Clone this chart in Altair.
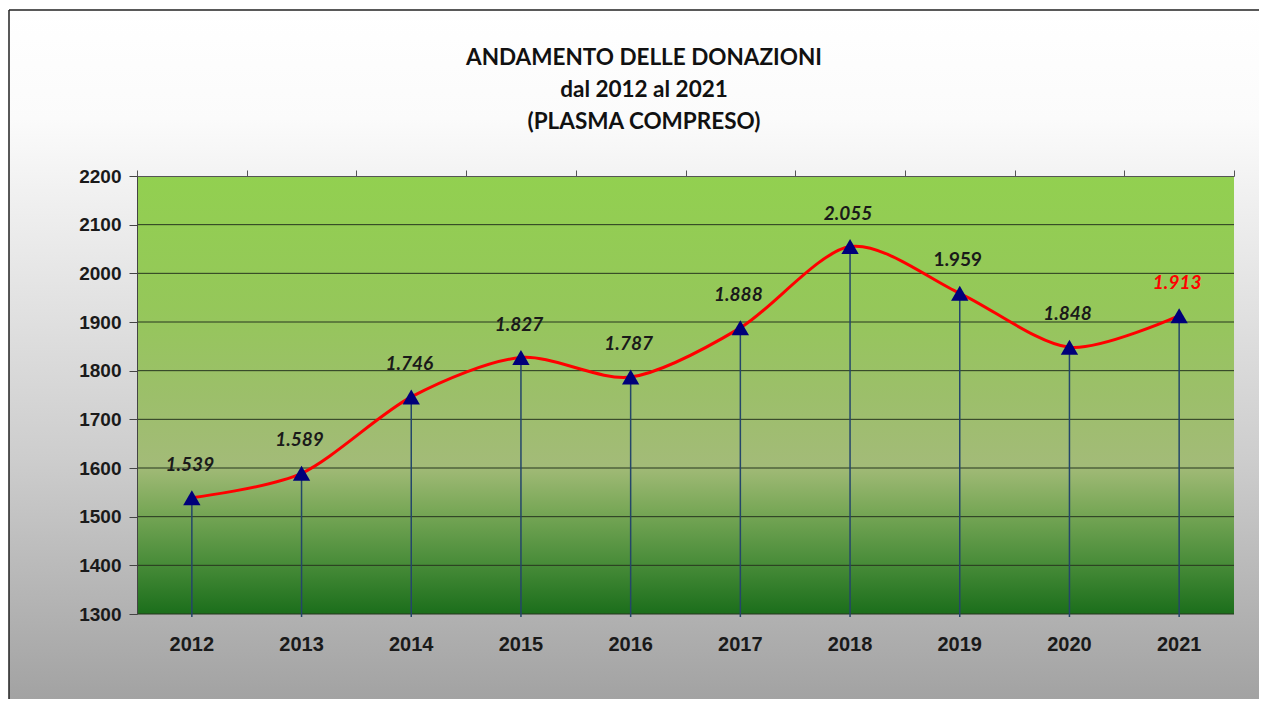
import altair as alt
import pandas as pd

years = ["2012", "2013", "2014", "2015", "2016", "2017", "2018", "2019", "2020", "2021"]
donations = [1539, 1589, 1746, 1827, 1787, 1888, 2055, 1959, 1848, 1913]
grid_values = [1300, 1400, 1500, 1600, 1700, 1800, 1900, 2000, 2100]
y_ticks = [1300, 1400, 1500, 1600, 1700, 1800, 1900, 2000, 2100, 2200]
title_lines = ["ANDAMENTO DELLE DONAZIONI", "dal 2012 al 2021", "(PLASMA COMPRESO)"]

W, H = 1097, 438

df = pd.DataFrame({
    "year": years,
    "value": donations,
    "label": [f"{v:,}".replace(",", ".") for v in donations],
})
grid_df = pd.DataFrame({"value": grid_values})
one = pd.DataFrame({"a": [1]})

yscale = alt.Scale(domain=[1300, 2200], nice=False, zero=False)
xscale = alt.Scale(type="band", paddingInner=0, paddingOuter=0)

yaxis = alt.Axis(values=y_ticks, format="d", tickSize=8, tickColor="#444444", domainColor="#444444",
                 labelFont="Liberation Sans", labelFontSize=19, labelFontWeight="bold",
                 labelColor="#1a1a1a", labelPadding=8, grid=False, zindex=1)
yenc = alt.Y("value:Q", scale=yscale, title=None, axis=yaxis)

outer_grad = alt.Gradient(
    gradient="linear", x1=0, y1=0, x2=0, y2=1,
    stops=[
        alt.GradientStop(color="#ffffff", offset=0),
        alt.GradientStop(color="#fbfbfb", offset=0.15),
        alt.GradientStop(color="#efefef", offset=0.27),
        alt.GradientStop(color="#cdcdcd", offset=0.62),
        alt.GradientStop(color="#9c9c9c", offset=1),
    ],
)
green_grad = alt.Gradient(
    gradient="linear", x1=0, y1=0, x2=0, y2=1,
    stops=[
        alt.GradientStop(color="#92d050", offset=0),
        alt.GradientStop(color="#95c75a", offset=0.3),
        alt.GradientStop(color="#9cbf6a", offset=0.5),
        alt.GradientStop(color="#a3bb78", offset=0.66),
        alt.GradientStop(color="#7aa858", offset=0.76),
        alt.GradientStop(color="#4a8d3a", offset=0.88),
        alt.GradientStop(color="#1b6e1b", offset=1),
    ],
)

outer_bg = alt.Chart(one).mark_rect(fill=outer_grad).encode(
    x=alt.value(-128), x2=alt.value(W + 60), y=alt.value(-166), y2=alt.value(H + 120)
)
border_top = alt.Chart(one).mark_rule(color="#222222", strokeWidth=1.5).encode(
    x=alt.value(-128), x2=alt.value(W + 60), y=alt.value(-166)
)
border_left = alt.Chart(one).mark_rule(color="#222222", strokeWidth=1.5).encode(
    x=alt.value(-128), y=alt.value(-166), y2=alt.value(H + 120)
)
plot_bg = alt.Chart(one).mark_rect(fill=green_grad).encode(
    x=alt.value(0), x2=alt.value(W), y=alt.value(0), y2=alt.value(H)
)

title_layers = [
    alt.Chart(one).mark_text(
        font="Lato", fontSize=22.5, fontWeight="bold", color="#111111",
        align="center", baseline="middle",
    ).encode(x=alt.value(507), y=alt.value(-118 + 32 * i), text=alt.value(t))
    for i, t in enumerate(title_lines)
]

grid = alt.Chart(grid_df).mark_rule(color="#27361f", strokeWidth=1).encode(
    y=yenc, x=alt.value(0), x2=alt.value(W),
)

xenc_top = alt.X(
    "year:N", scale=xscale, bandPosition=0.5, sort=years, title=None,
    axis=alt.Axis(orient="top", labels=False, tickBand="extent", tickSize=6,
                  tickColor="#555555", domainColor="#555555", domainWidth=1,
                  grid=False, zindex=1),
)
xenc_bottom = alt.X(
    "year:N", scale=xscale, bandPosition=0.5, sort=years, title=None,
    axis=alt.Axis(orient="bottom", ticks=False, domain=False, labelAngle=0,
                  labelFont="Liberation Sans", labelFontSize=20, labelFontWeight="bold",
                  labelColor="#1a1a1a", labelPadding=20, grid=False, zindex=1),
)
xenc_none = alt.X("year:N", scale=xscale, bandPosition=0.5, sort=years, axis=None)

drops = alt.Chart(df).mark_rule(color="#24466a", strokeWidth=1.5).encode(
    x=xenc_top, y=yenc, y2=alt.value(H + 3),
)
line = alt.Chart(df).mark_line(color="#ff0000", strokeWidth=3, interpolate="cardinal", tension=0.15).encode(
    x=xenc_bottom, y=yenc,
)
tri = alt.Chart(df).mark_point(shape="triangle-up", filled=True, color="#00007a", size=300, opacity=1).encode(
    x=xenc_none, y=yenc
)

def labels(flt, color, style):
    return alt.Chart(df).transform_filter(flt).mark_text(
        font="Lato", fontSize=19, fontWeight="bold", fontStyle=style, color=color,
        dy=-33, dx=-2, baseline="middle",
    ).encode(x=xenc_none, y=yenc, text="label:N")

lab_main = labels("datum.year != '2019' && datum.year != '2021'", "#1a1a1a", "italic")
lab_plain = labels("datum.year == '2019'", "#1a1a1a", "normal")
lab_red = labels("datum.year == '2021'", "#ff0000", "italic")

chart = alt.layer(
    outer_bg, border_top, border_left, plot_bg, *title_layers, grid, drops, line, tri,
    lab_main, lab_plain, lab_red
).resolve_axis(x="independent").properties(
    width=W, height=H,
    autosize=alt.AutoSizeParams(type="none"),
    padding={"left": 129, "top": 168, "right": 25, "bottom": 85},
).configure_view(strokeWidth=0)

chart.save("out.html", embed_options={"renderer": "svg", "actions": False})
